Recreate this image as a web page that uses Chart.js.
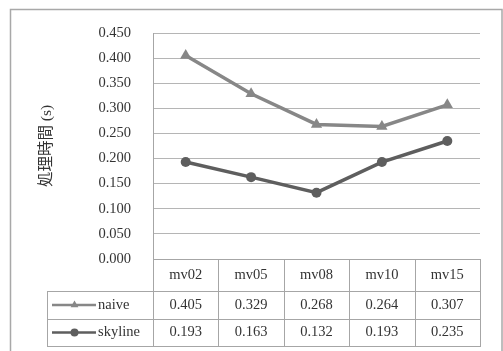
<!DOCTYPE html>
<html><head><meta charset="utf-8">
<script src="https://cdn.jsdelivr.net/npm/chart.js@4/dist/chart.umd.min.js"></script>
<style>html,body{margin:0;padding:0;background:#fff}#c{display:block}</style>
</head><body>
<canvas id="c" width="503" height="351"></canvas>
<script>
const categories = ['mv02', 'mv05', 'mv08', 'mv10', 'mv15'];
const naiveValues = [0.405, 0.329, 0.268, 0.264, 0.307];
const skylineValues = [0.193, 0.163, 0.132, 0.193, 0.235];
const seriesNames = ['naive', 'skyline'];
const yAxisTitle = '処理時間 (s)';
const yMin = 0, yMax = 0.45, yStep = 0.05;

const SERIF = "'Liberation Serif', 'Noto Sans CJK JP', serif";
const FS = 14.5;
const TEXT = '#333333';
const LINE = '#a6a6a6';
const styles = [
  {color: '#878787', point: 'triangle', r: 6.5, lw: 3.5, lr: 4.5},
  {color: '#5e5e5e', point: 'circle', r: 5, lw: 3.5, lr: 4}
];

const tablePlugin = {
  id: 'dataTable',
  beforeDraw(chart) {
    const ctx = chart.ctx;
    ctx.save();
    ctx.strokeStyle = '#a8a8a8';
    ctx.lineWidth = 1.5;
    ctx.strokeRect(10.5, 9.5, 491.5, 350);
    ctx.restore();
  },
  afterDraw(chart) {
    const ctx = chart.ctx;
    const xs = chart.scales.x;
    const area = chart.chartArea;
    const n = categories.length;
    const w = (area.right - area.left) / n;
    const top = area.bottom;
    const rows = [top, top + 32, top + 60, top + 87];
    const legLeft = 47;
    ctx.save();
    ctx.strokeStyle = LINE;
    ctx.lineWidth = 1;
    const hl = (y, x0, x1) => { ctx.beginPath(); ctx.moveTo(x0, Math.round(y) + 0.5); ctx.lineTo(x1, Math.round(y) + 0.5); ctx.stroke(); };
    const vl = (x, y0, y1) => { ctx.beginPath(); ctx.moveTo(Math.round(x) + 0.5, y0); ctx.lineTo(Math.round(x) + 0.5, y1); ctx.stroke(); };
    hl(rows[0], area.left, area.right);
    for (let i = 1; i < rows.length; i++) hl(rows[i], legLeft, area.right);
    for (let i = 0; i <= n; i++) vl(area.left + i * w, rows[0], rows[3] + 1);
    vl(legLeft, rows[1], rows[3] + 1);
    ctx.fillStyle = TEXT;
    ctx.font = FS + 'px ' + SERIF;
    ctx.textAlign = 'center';
    ctx.textBaseline = 'middle';
    const series = [naiveValues, skylineValues];
    categories.forEach((c, i) => {
      const cx = xs.getPixelForValue(i);
      ctx.fillText(c, cx, (rows[0] + rows[1]) / 2);
      series.forEach((vals, s) => {
        ctx.fillText(vals[i].toFixed(3), cx, (rows[s + 1] + rows[s + 2]) / 2);
      });
    });
    seriesNames.forEach((name, s) => {
      const y = (rows[s + 1] + rows[s + 2]) / 2;
      const st = styles[s];
      ctx.strokeStyle = st.color;
      ctx.lineWidth = 2.5;
      ctx.beginPath(); ctx.moveTo(52, y); ctx.lineTo(96, y); ctx.stroke();
      ctx.fillStyle = st.color;
      Chart.helpers.drawPoint(ctx, {pointStyle: st.point, radius: st.lr, rotation: 0, borderWidth: 0}, 74.5, y);
      ctx.fillStyle = TEXT;
      ctx.textAlign = 'left';
      ctx.fillText(name, 98, y);
    });
    ctx.restore();
  }
};

new Chart(document.getElementById('c'), {
  type: 'line',
  data: {
    labels: categories,
    datasets: [naiveValues, skylineValues].map((vals, s) => ({
      label: seriesNames[s],
      data: vals,
      borderColor: styles[s].color,
      backgroundColor: styles[s].color,
      borderWidth: styles[s].lw,
      pointStyle: styles[s].point,
      pointRadius: styles[s].r,
      pointBorderWidth: 0,
      pointBackgroundColor: styles[s].color,
      tension: 0,
      clip: false
    }))
  },
  options: {
    responsive: false,
    animation: false,
    devicePixelRatio: 1,
    layout: {padding: {left: 0, right: 23, top: 33, bottom: 92}},
    plugins: {legend: {display: false}, tooltip: {enabled: false}, title: {display: false}},
    scales: {
      x: {display: false, offset: true},
      y: {
        min: yMin, max: yMax,
        afterFit(s) { s.width = 153; },
        border: {display: true, color: LINE, width: 1},
        grid: {color: '#b5b5b5', lineWidth: 1, drawTicks: false},
        ticks: {
          stepSize: yStep, padding: 22, color: TEXT,
          font: {family: SERIF, size: FS},
          callback: v => Number(v).toFixed(3)
        },
        title: {
          display: true, text: yAxisTitle, color: TEXT,
          font: {family: SERIF, size: 15.5},
          padding: {top: 38, bottom: 0}
        }
      }
    }
  },
  plugins: [tablePlugin]
});
</script>
</body></html>
